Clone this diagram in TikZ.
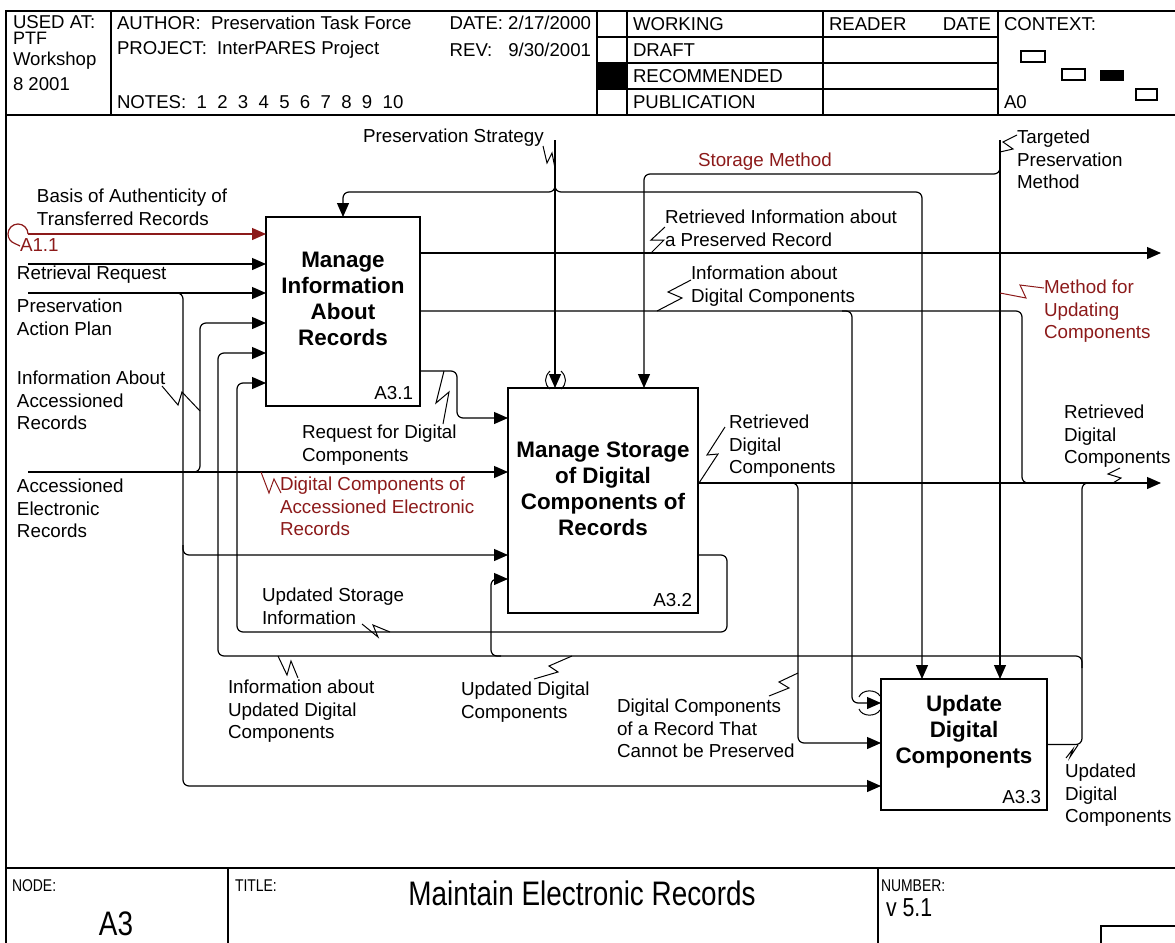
\documentclass[tikz,border=0pt]{standalone}
\usepackage{fontspec}
\setmainfont{Liberation Sans}
\newfontfamily\narrowsans[FakeStretch=0.82]{Liberation Sans}
\usetikzlibrary{arrows.meta}
\definecolor{refred}{RGB}{140,26,26}
\begin{document}
\begin{tikzpicture}[x=0.5pt,y=-0.5pt,
  every node/.style={inner sep=0pt,outer sep=0pt},
  formline/.style={line width=0.6pt},
  hdr/.style={font=\fontsize{9.3}{10}\selectfont,anchor=west},
  lbl/.style={font=\fontsize{9.4}{11.25}\selectfont,align=left,anchor=north west},
  lbl1/.style={font=\fontsize{9.4}{11.25}\selectfont,anchor=west},
  flow/.style={line width=0.6pt,rounded corners=3pt},
  arr/.style={flow,-{Triangle[length=7pt,width=6pt]}},
  squig/.style={line width=0.5pt},
  fnbox/.style={draw,line width=1.3pt,anchor=north west},
  fntext/.style={font=\fontsize{11.2}{13}\selectfont\bfseries,align=center},
  fnid/.style={font=\fontsize{9.4}{11}\selectfont,anchor=east},
  tunnel/.style={line width=0.5pt},
  foot/.style={font=\narrowsans\fontsize{8.5}{10}\selectfont,anchor=west},
]
\useasboundingbox (0,0) rectangle (1175,943);

% ---------- form frame and header ----------
\draw[formline] (6,943) -- (6,11) -- (1175,11);
\draw[formline] (6,115) -- (1175,115);
\foreach \xx in {111,597,627,823,998} \draw[formline] (\xx,11) -- (\xx,115);
\foreach \yy in {37,63,89} \draw[formline] (597,\yy) -- (998,\yy);
\fill (597,63) rectangle (627,89);
\draw[formline] (1021,51) rectangle (1045,62);
\draw[formline] (1062,69) rectangle (1085,80);
\fill (1100,70) rectangle (1124,81);
\draw[formline] (1136,89) rectangle (1157,100);

\node[hdr] (usedat) at (13,22) {USED AT:};
\node[hdr,font=\fontsize{9}{10}\selectfont] (ptf) at (13,38) {PTF};
\node[hdr] (wshop) at (13,61) {Workshop};
\node[hdr] (wyear) at (13,84) {8 2001};
\node[hdr] (author) at (117,23) {AUTHOR:~~Preservation Task Force};
\node[hdr] (project) at (117,50) {PROJECT:~~InterPARES Project};
\node[hdr] (notes) at (117,102) {NOTES:~~1~~2~~3~~4~~5~~6~~7~~8~~9~~10};
\node[hdr,anchor=east] (date) at (591,23) {DATE: 2/17/2000};
\node[hdr] (revl) at (date.west |- 0,50) {REV:};
\node[hdr,anchor=east] (revv) at (591,50) {9/30/2001};
\node[hdr] (working) at (633,24) {WORKING};
\node[hdr] (draft) at (633,50) {DRAFT};
\node[hdr] (recomm) at (633,76) {RECOMMENDED};
\node[hdr] (publ) at (633,102) {PUBLICATION};
\node[hdr] (reader) at (829,24) {READER};
\node[hdr,anchor=east] (rdate) at (991,24) {DATE};
\node[hdr] (context) at (1004,24) {CONTEXT:};
\node[hdr] (azero) at (1004,102) {A0};

% ---------- footer ----------
\draw[formline] (6,868) -- (1175,868);
\draw[formline] (228,868) -- (228,943);
\draw[formline] (878,868) -- (878,943);
\draw[formline] (1101,943) -- (1101,926) -- (1175,926);
\node[foot] (nodel) at (12,886) {NODE:};
\node[foot] (titlel) at (235,886) {TITLE:};
\node[foot] (numl) at (881,886) {NUMBER:};
\node[font=\narrowsans\fontsize{17}{20}\selectfont] (nodev) at (116,924) {A3};
\node[font=\narrowsans\fontsize{17}{20}\selectfont] (titlev) at (582,893) {Maintain Electronic Records};
\node[font=\narrowsans\fontsize{13}{15}\selectfont,anchor=west] (numv) at (886,908) {v 5.1};

% ---------- activity boxes ----------
\node[fnbox,minimum width=77pt,minimum height=94.5pt] (b1) at (266,217) {};
\node[fnbox,minimum width=95pt,minimum height=112.5pt] (b2) at (508,388) {};
\node[fnbox,minimum width=83pt,minimum height=65.5pt] (b3) at (881,679) {};
\node[fntext] (b1t) at (343,299) {Manage\\Information\\About\\Records};
\node[fntext] (b2t) at (603,489) {Manage Storage\\of Digital\\Components of\\Records};
\node[fntext] (b3t) at (964,732) {Update\\Digital\\Components};
\node[fnid] (b1id) at (413,393) {A3.1};
\node[fnid] (b2id) at (692,600) {A3.2};
\node[fnid] (b3id) at (1041,797) {A3.3};

% ---------- helper coordinates ----------
\coordinate (y253) at (0,253);
\coordinate (y311) at (0,311);
\coordinate (y371) at (0,371);
\coordinate (y483) at (0,483);
\coordinate (y555) at (0,555);

% ---------- inputs ----------
\coordinate (inA) at (28,234);
\draw[arr,refred] (inA) -- (inA -| b1.west);
\draw[refred,line width=0.6pt] (inA) arc[start angle=0,end angle=250,radius=5pt] -- (20,246);
\coordinate (inR) at (28,264);
\draw[arr] (inR) -- (inR -| b1.west);
\coordinate (inP) at (28,293);
\draw[arr] (inP) -- (inP -| b1.west);
\coordinate (pJ) at (176,293);
\coordinate (pD) at (183,786);
\draw[arr] (pJ) -| (pD) -- (pD -| b3.west);
\coordinate (pB) at (183,545);
\coordinate (pBy) at (183,555);
\draw[arr] (pB) -- (pBy) -- (pBy -| b2.west);
\coordinate (inE) at (28,472);
\draw[arr] (inE) -- (inE -| b2.west);
\coordinate (eJ) at (190,472);
\coordinate (c323) at (200,323);
\draw[arr] (eJ) -| (c323) -- (c323 -| b1.west);

% ---------- outputs of A3.1 ----------
\coordinate (oInfo) at (1161,253);
\draw[arr] (b1.east |- y253) -- (oInfo);
\coordinate (c1022) at (1022,483);
\draw[flow] (b1.east |- y311) -| (c1022) -- (1036,483);
\coordinate (dJ) at (842,311);
\coordinate (c703) at (852,703);
\draw[arr] (dJ) -| (c703) -- (c703 -| b3.west);
\coordinate (c418) at (457,418);
\draw[arr] (b1.east |- y371) -| (c418) -- (c418 -| b2.west);

% ---------- outputs of A3.2 ----------
\coordinate (outDC) at (1161,483);
\draw[arr] (b2.east |- y483) -- (outDC);
\coordinate (rJ) at (788,483);
\coordinate (c743) at (798,743);
\draw[arr] (rJ) -| (c743) -- (c743 -| b3.west);
\coordinate (c727) at (727,632);
\coordinate (c383) at (237,383);
\draw[arr] (b2.east |- y555) -| (c727) -- (237,632) -- (c383) -- (c383 -| b1.west);

% ---------- outputs of A3.3 ----------
\coordinate (c1082) at (1082,483);
\draw[flow] (b3.east) -| (c1082) -- (1096,483);
\coordinate (uJ) at (1082,668);
\coordinate (c353) at (218,353);
\draw[arr] (uJ) |- (218,656) -- (c353) -- (c353 -| b1.west);
\coordinate (uB) at (501,656);
\coordinate (c579) at (491,579);
\draw[arr] (uB) -| (c579) -- (c579 -| b2.west);

% ---------- controls ----------
\coordinate (ps) at (555,140);
\draw[arr] (ps) -- (ps |- b2.north);
\coordinate (psJ) at (555,182);
\coordinate (c343) at (343,192);
\coordinate (c922) at (922,192);
\draw[arr] (psJ) |- (c343) -- (c343 |- b1.north);
\draw[arr] (psJ) |- (c922) -- (c922 |- b3.north);
\coordinate (tp) at (1000,140);
\draw[arr] (tp) -- (tp |- b3.north);
\coordinate (tpJ) at (1000,164);
\coordinate (c644) at (644,174);
\draw[arr] (tpJ) |- (c644) -- (c644 |- b2.north);

% ---------- tunnel marks ----------
\draw[tunnel] (550,371) .. controls (544,377) and (544,384) .. (550,389);
\draw[tunnel] (561,371) .. controls (567,377) and (567,384) .. (561,389);
\draw[tunnel] (859,697) .. controls (862,689) and (876,689) .. (880,696);
\draw[tunnel] (859,709) .. controls (862,717) and (876,717) .. (880,710);

% ---------- labels ----------
\node[lbl1] (lps) at (363,138) {Preservation Strategy};
\draw[squig] (543,146) -- (547,163) -- (552,153) -- (555,168);
\node[lbl] (lbasis) at (37,189) {Basis of Authenticity of\\Transferred Records};
\node[lbl1,text=refred] (la11) at (20,245) {A1.1};
\node[lbl1] (lretr) at (17,275) {Retrieval Request};
\node[lbl] (lplan) at (17,299) {Preservation\\Action Plan};
\node[lbl] (linfacc) at (17,371) {Information About\\Accessioned\\Records};
\draw[squig] (162,386) -- (178,405) -- (182,392) -- (200,411);
\node[lbl] (lacc) at (17,479) {Accessioned\\Electronic\\Records};
\node[lbl] (lreq) at (302,425) {Request for Digital\\Components};
\draw[squig] (444,371) -- (436,403) -- (449,392) -- (443,424);
\node[lbl,text=refred] (ldcacc) at (280,477) {Digital Components of\\Accessioned Electronic\\Records};
\draw[squig,refred] (261,472) -- (269,493) -- (274,479) -- (281,493);
\node[lbl] (lupst) at (262,588) {Updated Storage\\Information};
\draw[squig] (362,624) -- (378,637) -- (373,625) -- (390,632);
\node[lbl] (linfupd) at (228,680) {Information about\\Updated Digital\\Components};
\draw[squig] (278,656) -- (287,675) -- (291,661) -- (298,678);
\node[lbl] (lupdc) at (461,682) {Updated Digital\\Components};
\draw[squig] (534,679) -- (558,672) -- (549,666) -- (572,656);
\node[lbl] (lnotpres) at (617,699) {Digital Components\\of a Record That\\Cannot be Preserved};
\draw[squig] (769,696) -- (789,688) -- (779,682) -- (798,673);
\node[lbl] (lretdc) at (729,415) {Retrieved\\Digital\\Components};
\draw[squig] (699,483) -- (718,454) -- (707,455) -- (725,427);
\node[lbl] (lretinfo) at (665,210) {Retrieved Information about\\a Preserved Record};
\draw[squig] (665,227) -- (651,240) -- (664,240) -- (651,253);
\node[lbl] (linfdc) at (691,266) {Information about\\Digital Components};
\draw[squig] (691,280) -- (668,292) -- (682,298) -- (657,311);
\node[lbl1,text=refred] (lstor) at (698,162) {Storage Method};
\node[lbl] (ltarg) at (1017,130) {Targeted\\Preservation\\Method};
\draw[squig] (1017,135) -- (1003,142) -- (1013,149) -- (1000,152);
\node[lbl,text=refred] (lmeth) at (1044,280) {Method for\\Updating\\Components};
\draw[squig,refred] (1044,288) -- (1020,285) -- (1026,298) -- (1000,293);
\node[lbl] (lretdc2) at (1064,405) {Retrieved\\Digital\\Components};
\draw[squig] (1120,468) -- (1108,474) -- (1121,478) -- (1113,483);
\node[lbl] (lupdc2) at (1065,764) {Updated\\Digital\\Components};
\draw[squig] (1066,758) -- (1073,749) -- (1070,757) -- (1078,745);

\end{tikzpicture}
\end{document}
